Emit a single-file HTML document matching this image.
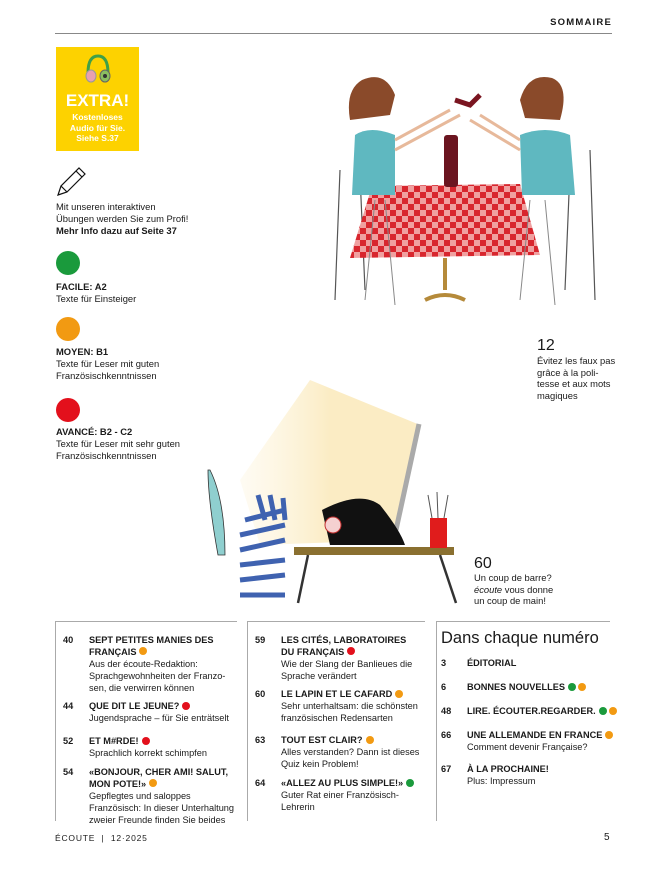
<!DOCTYPE html>
<html><head><meta charset="utf-8"><style>
*{margin:0;padding:0;box-sizing:border-box}
body{width:654px;height:872px;background:#fff;font-family:"Liberation Sans",sans-serif;color:#1a1a1a;position:relative;overflow:hidden}
.a{position:absolute}
.t{font-size:9.4px;line-height:11.8px}
b{font-weight:bold}
.d{display:inline-block;width:8px;height:8px;border-radius:50%;vertical-align:-0.5px;margin-left:3px}
.g{background:#1a9a3c}.o{background:#f29a12}.r{background:#e3101c}
.col{position:absolute;top:621px;height:200px;border-left:1px solid #aaa;border-top:1px solid #aaa}
.it{position:absolute;font-size:9.2px;line-height:11.9px;white-space:nowrap}
.it .n{position:absolute;left:0;font-weight:bold}
.it .c{position:absolute;left:26px}
</style></head><body>
<div class="a" style="left:0;top:17px;width:612px;text-align:right;font-size:9.5px;font-weight:bold;letter-spacing:1.2px">SOMMAIRE</div>
<div class="a" style="left:55px;top:33px;width:557px;height:1px;background:#888"></div>

<div class="a" style="left:56px;top:47px;width:83px;height:104px;background:#fdd200;color:#fff;text-align:center">
<svg width="30" height="34" style="margin-top:6px" viewBox="0 0 30 34"><path d="M5 20 Q5 3 15 3 Q25 3 25 20" fill="none" stroke="#3fa048" stroke-width="3"/><ellipse cx="8" cy="23" rx="5" ry="6" fill="#e8a0b0" stroke="#999"/><ellipse cx="22" cy="23" rx="5" ry="6" fill="#8bbf60" stroke="#666"/><circle cx="22" cy="23" r="2" fill="#333"/></svg>
<div style="font-size:17px;font-weight:bold;line-height:18px">EXTRA!</div>
<div style="font-size:8.5px;font-weight:bold;line-height:10.5px;margin-top:2px">Kostenloses<br>Audio für Sie.<br>Siehe S.37</div></div>

<svg class="a" style="left:55px;top:166px" width="32" height="32" viewBox="0 0 32 32"><path d="M3 29 L6 20 L24 2 L30 8 L12 26 Z M6 20 L12 26 M21 5 L27 11" fill="none" stroke="#111" stroke-width="1.2"/></svg>
<div class="a t" style="left:56px;top:201px">Mit unseren interaktiven<br>Übungen werden Sie zum Profi!<br><b>Mehr Info dazu auf Seite 37</b></div>

<div class="a g" style="left:56px;top:251px;width:24px;height:24px;border-radius:50%"></div>
<div class="a t" style="left:56px;top:281px"><b>FACILE: A2</b><br>Texte für Einsteiger</div>
<div class="a o" style="left:56px;top:317px;width:24px;height:24px;border-radius:50%"></div>
<div class="a t" style="left:56px;top:346px"><b>MOYEN: B1</b><br>Texte für Leser mit guten<br>Französischkenntnissen</div>
<div class="a r" style="left:56px;top:398px;width:24px;height:24px;border-radius:50%"></div>
<div class="a t" style="left:56px;top:426px"><b>AVANCÉ: B2 - C2</b><br>Texte für Leser mit sehr guten<br>Französischkenntnissen</div>

<!-- top illustration -->
<svg class="a" style="left:300px;top:55px" width="310" height="260" viewBox="300 55 310 260">
<defs><pattern id="ck" width="12" height="12" patternUnits="userSpaceOnUse"><rect width="12" height="12" fill="#fff"/><rect width="6" height="6" fill="#d8262e"/><rect x="6" y="6" width="6" height="6" fill="#d8262e"/><rect x="6" width="6" height="6" fill="#f0a0a0"/><rect y="6" width="6" height="6" fill="#f0a0a0"/></pattern></defs>
<g stroke="#555" fill="none" stroke-width="1.2">
<path d="M340 170 L335 300 M360 175 L365 290 M590 150 L595 300 M570 170 L565 290"/>
</g>
<path d="M372 186 L520 184 L540 255 L350 258 Z" fill="url(#ck)"/>
<path d="M445 258 L445 290 M425 300 Q445 290 465 300" stroke="#b58a3a" stroke-width="4" fill="none"/>
<rect x="444" y="135" width="14" height="52" rx="3" fill="#6b1520"/>
<path d="M350 120 Q345 90 362 80 Q385 70 395 95 L390 115 Z" fill="#8a4a2a"/>
<path d="M355 135 Q370 125 395 135 L395 195 L352 195 Z" fill="#5fb8c0"/>
<path d="M375 200 L365 300 M385 200 L395 305" stroke="#888" fill="none"/>
<path d="M395 140 L450 110 M395 150 L460 115" stroke="#e7b99b" stroke-width="3"/>
<path d="M560 120 Q570 85 552 78 Q528 72 520 100 L525 118 Z" fill="#8a4a2a"/>
<path d="M520 135 Q545 125 570 135 L575 195 L522 195 Z" fill="#5fb8c0"/>
<path d="M530 200 L520 300 M545 200 L555 305" stroke="#888" fill="none"/>
<path d="M520 140 L480 115 M520 150 L470 120" stroke="#e7b99b" stroke-width="3"/>
<path d="M455 100 L470 105 L480 95" stroke="#7a1520" stroke-width="5" fill="none"/>
</svg>

<div class="a" style="left:537px;top:337px;font-size:16px">12</div>
<div class="a t" style="left:537px;top:355px;line-height:11.5px">Évitez les faux pas<br>grâce à la poli-<br>tesse et aux mots<br>magiques</div>

<!-- bottom illustration -->
<svg class="a" style="left:200px;top:380px" width="280" height="225" viewBox="200 380 280 225">
<defs><linearGradient id="gl" x1="0" x2="1"><stop offset="0" stop-color="#fdf3d8" stop-opacity="0.3"/><stop offset="0.5" stop-color="#fbecc4"/></linearGradient></defs>
<path d="M310 380 L420 425 L395 540 L260 545 L240 480 Z" fill="url(#gl)"/>
<path d="M419 424 L396 530" stroke="#aaa" stroke-width="5"/>
<path d="M210 470 Q225 500 225 555 L218 555 Q208 500 208 470 Z" fill="#8fcfcf" stroke="#333" stroke-width="0.8"/>
<rect x="294" y="547" width="160" height="8" fill="#8a7030"/>
<path d="M308 555 L298 603 M440 555 L456 603" stroke="#333" stroke-width="2.5"/>
<g stroke="#3f62b0" stroke-width="5">
<path d="M245 520 L285 510 M240 535 L285 525 M240 550 L285 540 M240 565 L285 560 M240 580 L285 575 M240 595 L285 595 M258 495 L265 520 M270 495 L275 520 M283 498 L285 520"/></g>
<path d="M322 510 Q360 490 380 505 Q400 530 405 545 L330 545 Z" fill="#111"/>
<circle cx="333" cy="525" r="8" fill="#f5d0d0" stroke="#c03030"/>
<rect x="430" y="518" width="17" height="30" fill="#e01c1c"/>
<path d="M432 518 L428 495 M438 518 L437 492 M444 518 L448 495" stroke="#555"/>
</svg>

<div class="a" style="left:474px;top:555px;font-size:16px">60</div>
<div class="a t" style="left:474px;top:572px;line-height:11.5px">Un coup de barre?<br><i>écoute</i> vous donne<br>un coup de main!</div>

<div class="col" style="left:55px;width:182px"></div>
<div class="col" style="left:247px;width:178px"></div>
<div class="col" style="left:436px;width:174px"></div>

<div class="it" style="left:63px;top:635px"><span class="n">40</span><span class="c"><b>SEPT PETITES MANIES DES<br>FRANÇAIS</b><span class="d o"></span><br>Aus der écoute-Redaktion:<br>Sprachgewohnheiten der Franzo-<br>sen, die verwirren können</span></div>
<div class="it" style="left:63px;top:701px"><span class="n">44</span><span class="c"><b>QUE DIT LE JEUNE?</b><span class="d r"></span><br>Jugendsprache – für Sie enträtselt</span></div>
<div class="it" style="left:63px;top:736px"><span class="n">52</span><span class="c"><b>ET M#RDE!</b><span class="d r"></span><br>Sprachlich korrekt schimpfen</span></div>
<div class="it" style="left:63px;top:767px"><span class="n">54</span><span class="c"><b>«BONJOUR, CHER AMI! SALUT,<br>MON POTE!»</b><span class="d o"></span><br>Gepflegtes und saloppes<br>Französisch: In dieser Unterhaltung<br>zweier Freunde finden Sie beides</span></div>

<div class="it" style="left:255px;top:635px"><span class="n">59</span><span class="c"><b>LES CITÉS, LABORATOIRES<br>DU FRANÇAIS</b><span class="d r"></span><br>Wie der Slang der Banlieues die<br>Sprache verändert</span></div>
<div class="it" style="left:255px;top:689px"><span class="n">60</span><span class="c"><b>LE LAPIN ET LE CAFARD</b><span class="d o"></span><br>Sehr unterhaltsam: die schönsten<br>französischen Redensarten</span></div>
<div class="it" style="left:255px;top:735px"><span class="n">63</span><span class="c"><b>TOUT EST CLAIR?</b><span class="d o"></span><br>Alles verstanden? Dann ist dieses<br>Quiz kein Problem!</span></div>
<div class="it" style="left:255px;top:778px"><span class="n">64</span><span class="c"><b>«ALLEZ AU PLUS SIMPLE!»</b><span class="d g"></span><br>Guter Rat einer Französisch-<br>Lehrerin</span></div>

<div class="a" style="left:441px;top:629px;font-size:16.5px">Dans chaque numéro</div>
<div class="it" style="left:441px;top:658px"><span class="n">3</span><span class="c"><b>ÉDITORIAL</b></span></div>
<div class="it" style="left:441px;top:682px"><span class="n">6</span><span class="c"><b>BONNES NOUVELLES</b><span class="d g"></span><span class="d o" style="margin-left:2px"></span></span></div>
<div class="it" style="left:441px;top:706px"><span class="n">48</span><span class="c"><b>LIRE. ÉCOUTER.REGARDER.</b><span class="d g"></span><span class="d o" style="margin-left:2px"></span></span></div>
<div class="it" style="left:441px;top:730px"><span class="n">66</span><span class="c"><b>UNE ALLEMANDE EN FRANCE</b><span class="d o"></span><br>Comment devenir Française?</span></div>
<div class="it" style="left:441px;top:764px"><span class="n">67</span><span class="c"><b>À LA PROCHAINE!</b><br>Plus: Impressum</span></div>

<div class="a" style="left:55px;top:833px;font-size:8.5px;letter-spacing:0.8px">ÉCOUTE &nbsp;|&nbsp; 12·2025</div>
<div class="a" style="left:604px;top:832px;font-size:10px">5</div>
</body></html>
